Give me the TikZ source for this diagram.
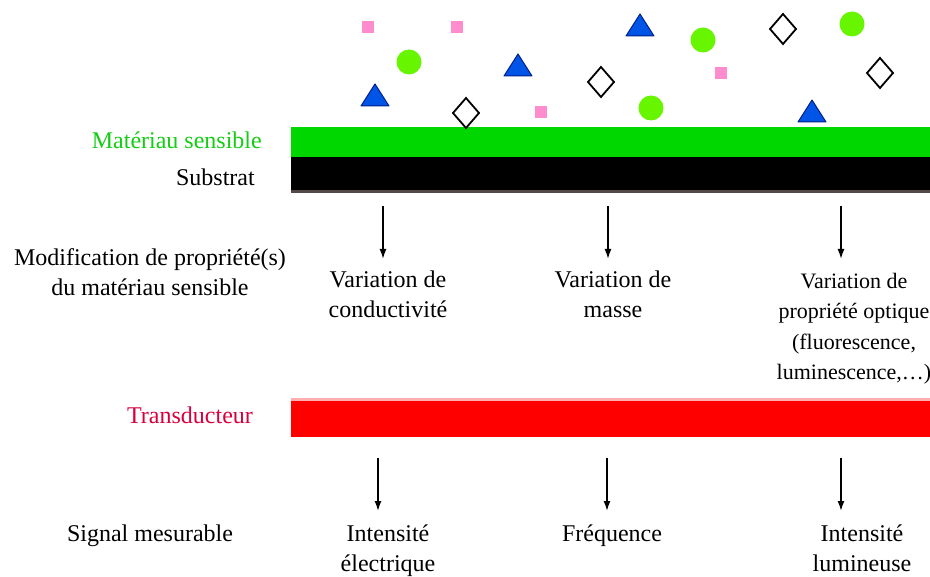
\documentclass[tikz,border=0pt]{standalone}
\usepackage{fontspec}
\setmainfont{Liberation Serif}
\usepackage{tikz}
\usetikzlibrary{positioning,arrows,arrows.meta,calc}

\definecolor{vertcouche}{RGB}{0,214,0}
\definecolor{vertboule}{RGB}{104,245,0}
\definecolor{rosep}{RGB}{255,140,205}
\definecolor{bleutri}{RGB}{0,85,230}
\definecolor{bleufonce}{RGB}{0,30,140}
\definecolor{gristrait}{RGB}{85,72,72}
\definecolor{roseclair}{RGB}{255,175,175}
\definecolor{cramoisi}{RGB}{215,0,60}
\definecolor{verttexte}{RGB}{20,205,20}

\tikzset{
	texte/.style={font=\fontsize{24}{30}\selectfont, inner sep=0pt, align=center, anchor=base},
	fleche/.style={-{Latex[length=10pt,width=7pt]}, line width=1.6pt},
	boule/.style={fill=vertboule},
	rose/.style={fill=rosep},
	tri/.style={fill=bleutri, draw=bleufonce, line width=1pt, line join=round},
	losange/.style={fill=white, draw=black, line width=1.8pt}
}

\begin{document}
\begin{tikzpicture}[x=1pt,y=-1pt]
		\useasboundingbox (0,0) rectangle (930,577);

		% couches
		\fill[vertcouche] (291,127) rectangle (930,157);
		\fill[black] (291,157) rectangle (930,190);
		\fill[gristrait] (291,190) rectangle (930,193);
		\fill[roseclair] (291,398) rectangle (930,401);
		\fill[red] (291,401) rectangle (930,437);

		% especes
		\fill[rose] (368,27) ++(-6,-6) rectangle ++(12,12);
		\fill[rose] (457,27) ++(-6,-6) rectangle ++(12,12);
		\fill[rose] (721,73) ++(-6,-6) rectangle ++(12,12);
		\fill[rose] (541,112) ++(-6,-6) rectangle ++(12,12);

		\fill[boule] (409,62) circle (12.5pt);
		\fill[boule] (703,40) circle (12.5pt);
		\fill[boule] (852,24) circle (12.5pt);
		\fill[boule] (651,108) circle (12.5pt);

		\filldraw[tri] (375,95) ++(-14,11) -- ++(28,0) -- ++(-14,-22) -- cycle;
		\filldraw[tri] (518,65) ++(-14,11) -- ++(28,0) -- ++(-14,-22) -- cycle;
		\filldraw[tri] (640,25) ++(-14,11) -- ++(28,0) -- ++(-14,-22) -- cycle;
		\filldraw[tri] (812,111) ++(-14,11) -- ++(28,0) -- ++(-14,-22) -- cycle;

		\draw[losange] (466,113) ++(0,-15) -- ++(13,15) -- ++(-13,15) -- ++(-13,-15) -- cycle;
		\draw[losange] (601,82) ++(0,-15) -- ++(13,15) -- ++(-13,15) -- ++(-13,-15) -- cycle;
		\draw[losange] (783,29) ++(0,-15) -- ++(13,15) -- ++(-13,15) -- ++(-13,-15) -- cycle;
		\draw[losange] (880,73) ++(0,-15) -- ++(13,15) -- ++(-13,15) -- ++(-13,-15) -- cycle;

		% textes de gauche (base = ligne du bas)
		\node[texte, anchor=base east, text=verttexte] (mat) at (262,149) {Matériau sensible};
		\node[texte, anchor=base east] (sub) at (255,186) {Substrat};
		\node[texte] (modif) at (150,296) {Modification de propriété(s)\\du matériau sensible};
		\node[texte, text=cramoisi] (trans) at (190,424) {Transducteur};
		\node[texte] (signal) at (150,541) {Signal mesurable};

		% proprietes
		\node[texte] (vcond) at (388,318) {Variation de\\conductivité};
		\node[texte] (vmasse) at (613,318) {Variation de\\masse};
		\node[texte, font=\fontsize{22}{30.5}\selectfont] (voptique) at (854,380) {Variation de\\propriété optique\\(fluorescence,\\luminescence,…)};

		% signaux
		\node[texte] (selec) at (388,571) {Intensité\\électrique};
		\node[texte] (sfreq) at (612,541) {Fréquence};
		\node[texte] (slum) at (862,571) {Intensité\\lumineuse};

		% fleches
		\coordinate (h1) at (383,206);
		\coordinate (h2) at (608,206);
		\coordinate (h3) at (841,206);
		\coordinate (b1) at (378,458);
		\coordinate (b2) at (607,458);
		\coordinate (b3) at (841,458);
		\draw[fleche] (h1) -- ++(0,53);
		\draw[fleche] (h2) -- ++(0,53);
		\draw[fleche] (h3) -- ++(0,53);
		\draw[fleche] (b1) -- ++(0,53);
		\draw[fleche] (b2) -- ++(0,53);
		\draw[fleche] (b3) -- ++(0,53);
	\end{tikzpicture}
\end{document}
